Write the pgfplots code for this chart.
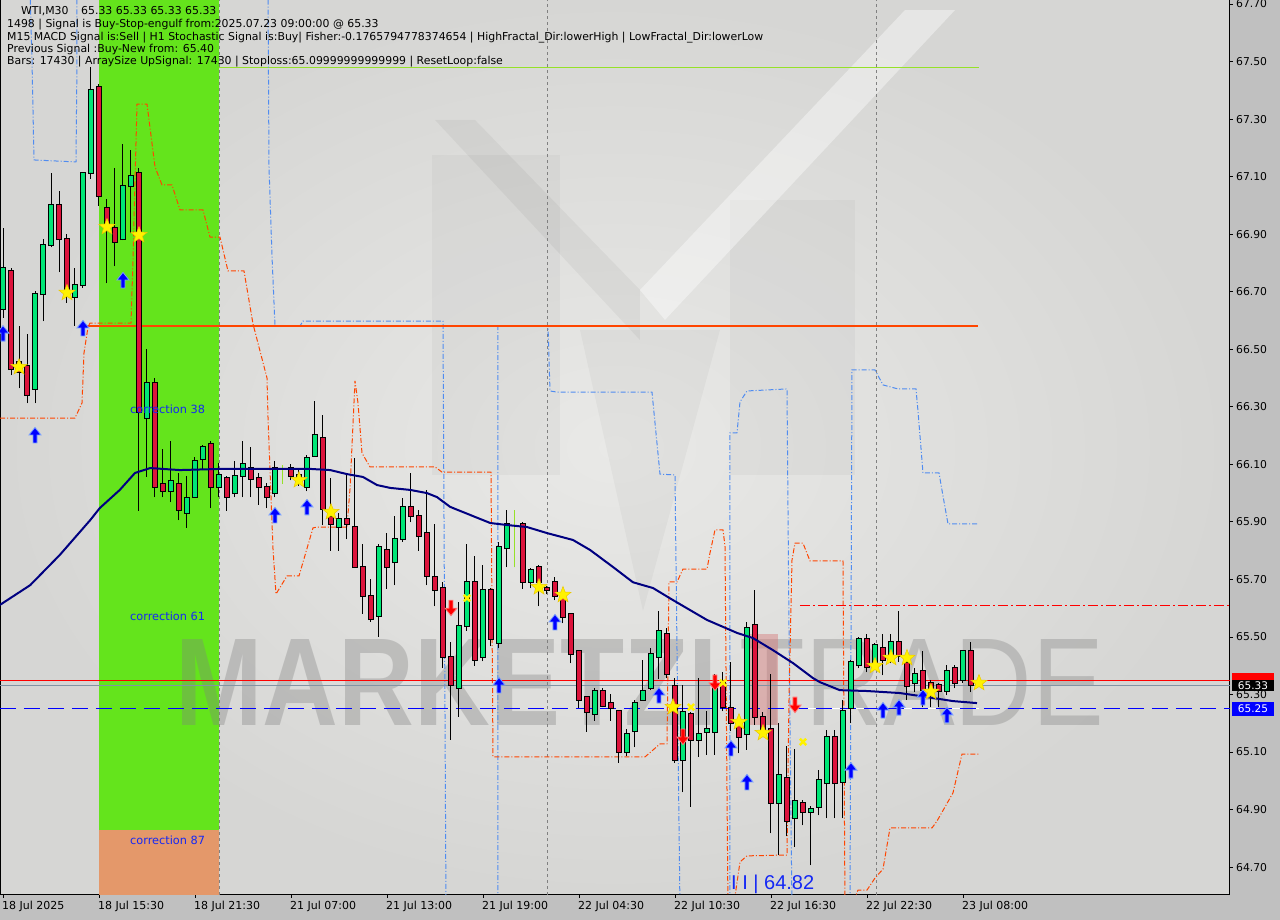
\documentclass[border=0pt]{standalone}
\usepackage{fontspec}
\setmainfont{DejaVu Sans}
\newfontfamily\wmfont{Liberation Sans}
\usepackage{pgfplots}
\pgfplotsset{compat=1.18}
\usepackage{pgfplotstable}

\definecolor{outerbg}{RGB}{192,192,192}
\definecolor{bgin}{RGB}{233,233,231}
\definecolor{bgout}{RGB}{214,214,212}
\definecolor{band}{RGB}{100,228,28}
\definecolor{salmon}{RGB}{228,152,106}
\definecolor{cgreen}{RGB}{0,230,118}
\definecolor{cred}{RGB}{220,20,60}
\definecolor{mnavy}{RGB}{0,0,128}
\definecolor{chblue}{RGB}{80,140,240}
\definecolor{chorange}{RGB}{255,69,0}
\definecolor{limec}{RGB}{150,225,40}
\definecolor{gline}{RGB}{130,148,165}
\definecolor{corrblue}{RGB}{20,40,245}
\definecolor{arrglow}{RGB}{120,160,255}
\definecolor{staredge}{RGB}{235,200,0}

\pgfdeclareplotmark{fstar}{%
  \pgfpathmoveto{\pgfpointpolar{90}{8.5pt}}%
  \pgfpathlineto{\pgfpointpolar{126}{3.6pt}}%
  \pgfpathlineto{\pgfpointpolar{162}{8.5pt}}%
  \pgfpathlineto{\pgfpointpolar{198}{3.6pt}}%
  \pgfpathlineto{\pgfpointpolar{234}{8.5pt}}%
  \pgfpathlineto{\pgfpointpolar{270}{3.6pt}}%
  \pgfpathlineto{\pgfpointpolar{306}{8.5pt}}%
  \pgfpathlineto{\pgfpointpolar{342}{3.6pt}}%
  \pgfpathlineto{\pgfpointpolar{18}{8.5pt}}%
  \pgfpathlineto{\pgfpointpolar{54}{3.6pt}}%
  \pgfpathclose\pgfusepath{fill,stroke}}
\pgfdeclareplotmark{uarr}{%
  \pgfpathmoveto{\pgfpoint{-2pt}{-8pt}}%
  \pgfpathlineto{\pgfpoint{2pt}{-8pt}}%
  \pgfpathlineto{\pgfpoint{2pt}{0pt}}%
  \pgfpathlineto{\pgfpoint{6pt}{0pt}}%
  \pgfpathlineto{\pgfpoint{0pt}{7.5pt}}%
  \pgfpathlineto{\pgfpoint{-6pt}{0pt}}%
  \pgfpathlineto{\pgfpoint{-2pt}{0pt}}%
  \pgfpathclose\pgfusepath{fill,stroke}}
\pgfdeclareplotmark{darr}{%
  \pgfpathmoveto{\pgfpoint{-2pt}{8pt}}%
  \pgfpathlineto{\pgfpoint{2pt}{8pt}}%
  \pgfpathlineto{\pgfpoint{2pt}{0pt}}%
  \pgfpathlineto{\pgfpoint{6pt}{0pt}}%
  \pgfpathlineto{\pgfpoint{0pt}{-7.5pt}}%
  \pgfpathlineto{\pgfpoint{-6pt}{0pt}}%
  \pgfpathlineto{\pgfpoint{-2pt}{0pt}}%
  \pgfpathclose\pgfusepath{fill,stroke}}

\pgfplotsset{
  errplot/.style={only marks, mark=*, mark size=0pt, mark options={draw=none, fill=none}, forget plot,
    error bars/.cd, y dir=plus, y explicit, error mark=none},
  chline/.style={line width=1pt, dash pattern=on 5pt off 2pt on 1pt off 2pt},
}

\pgfplotstableread{
i o h l c
0 66.640 66.921 66.609 66.782
1 66.772 66.782 66.410 66.431
2 66.456 66.581 66.365 66.421
3 66.442 66.553 66.313 66.341
4 66.362 66.702 66.313 66.692
5 66.692 66.883 66.598 66.862
6 66.862 67.113 66.855 67.001
7 67.001 67.050 66.768 66.883
8 66.883 66.901 66.661 66.706
9 66.682 66.782 66.581 66.723
10 66.723 67.113 66.713 67.113
11 67.113 67.481 67.092 67.401
12 67.412 67.422 66.998 67.033
13 66.991 67.022 66.730 66.921
14 66.921 67.130 66.789 66.873
15 66.883 67.213 66.880 67.067
16 67.067 67.193 66.904 67.102
17 67.113 67.130 65.938 66.282
18 66.261 66.501 66.056 66.383
19 66.383 66.400 65.986 66.021
20 66.032 66.153 65.986 66.007
21 66.007 66.181 65.969 66.042
22 66.032 66.070 65.906 65.941
23 65.931 66.059 65.879 65.983
24 65.986 66.125 65.983 66.111
25 66.118 66.167 66.080 66.160
26 66.171 66.181 65.948 66.021
27 66.021 66.105 65.986 66.063
28 66.052 66.059 65.938 65.986
29 66.000 66.111 65.986 66.059
30 66.059 66.181 65.986 66.101
31 66.087 66.160 65.986 66.049
32 66.052 66.070 65.959 66.021
33 66.021 66.035 65.948 65.986
34 66.000 66.111 65.986 66.087
36 66.087 66.101 66.045 66.059
37 66.052 66.087 66.025 66.063
38 66.021 66.132 66.007 66.122
39 66.129 66.320 66.129 66.202
40 66.191 66.271 65.889 65.945
41 65.917 66.052 65.799 65.892
42 65.882 65.931 65.799 65.910
43 65.910 66.066 65.840 65.892
44 65.882 66.122 65.743 65.743
45 65.743 65.823 65.580 65.642
46 65.642 65.701 65.552 65.562
47 65.573 65.823 65.500 65.812
48 65.802 65.861 65.667 65.743
49 65.760 65.920 65.680 65.840
50 65.840 65.983 65.830 65.952
51 65.952 66.070 65.899 65.920
52 65.920 65.941 65.799 65.851
53 65.861 66.011 65.680 65.712
54 65.708 65.892 65.607 65.663
55 65.670 65.691 65.392 65.430
56 65.430 65.482 65.142 65.333
57 65.322 65.621 65.222 65.538
58 65.538 65.823 65.521 65.691
59 65.691 65.781 65.399 65.420
60 65.430 65.750 65.416 65.663
61 65.663 65.670 65.468 65.493
62 65.479 65.830 65.461 65.812
63 65.809 65.941 65.743 65.892
65 65.892 65.899 65.667 65.691
66 65.691 65.740 65.670 65.733
67 65.743 65.750 65.607 65.691
68 65.670 65.677 65.649 65.663
69 65.691 65.708 65.628 65.642
70 65.639 65.646 65.548 65.569
71 65.580 65.583 65.409 65.441
72 65.451 65.451 65.253 65.281
73 65.291 65.291 65.170 65.239
74 65.232 65.322 65.208 65.312
75 65.312 65.322 65.256 65.260
76 65.270 65.302 65.208 65.253
77 65.242 65.242 65.062 65.100
78 65.100 65.180 65.086 65.162
79 65.173 65.281 65.117 65.270
80 65.281 65.420 65.281 65.312
81 65.322 65.461 65.315 65.441
82 65.430 65.590 65.354 65.521
83 65.510 65.531 65.357 65.371
84 65.329 65.357 65.062 65.072
85 65.072 65.333 64.961 65.239
86 65.232 65.239 64.909 65.142
87 65.142 65.357 65.083 65.162
88 65.170 65.242 65.090 65.180
89 65.170 65.371 65.090 65.329
90 65.340 65.378 65.242 65.256
91 65.253 65.413 65.173 65.201
92 65.211 65.218 65.096 65.152
93 65.162 65.552 65.107 65.531
94 65.541 65.663 65.194 65.222
95 65.222 65.239 65.156 65.176
96 65.180 65.371 64.818 64.923
97 64.923 65.201 64.742 65.020
98 65.010 65.121 64.808 64.860
99 64.870 65.110 64.770 64.930
100 64.923 64.933 64.846 64.891
101 64.891 64.912 64.707 64.902
102 64.909 65.037 64.881 65.003
103 64.992 65.176 64.870 65.152
104 65.152 65.176 64.870 64.992
105 64.996 65.281 64.870 65.242
106 65.253 65.420 65.201 65.413
107 65.402 65.500 65.392 65.493
108 65.493 65.510 65.378 65.395
109 65.413 65.479 65.395 65.472
110 65.461 65.510 65.367 65.420
111 65.437 65.510 65.409 65.482
112 65.482 65.590 65.413 65.434
113 65.409 65.434 65.281 65.329
114 65.340 65.392 65.308 65.371
115 65.381 65.451 65.256 65.315
116 65.340 65.350 65.256 65.322
117 65.333 65.340 65.256 65.312
118 65.312 65.402 65.298 65.381
119 65.392 65.402 65.322 65.340
120 65.350 65.451 65.340 65.451
121 65.451 65.482 65.308 65.333
}\candles

\begin{document}
\begin{tikzpicture}[x=1pt,y=1pt]
\useasboundingbox (0,0) rectangle (1280,920);
\fill[outerbg] (0,0) rectangle (1280,920);
\begin{axis}[
  at={(0pt,25pt)}, anchor=south west,
  width=1230pt, height=895pt, scale only axis,
  xmin=-0.375, xmax=153.375, ymin=64.603, ymax=67.714,
  axis background/.style={inner color=bgin, outer color=bgout},
  axis line style={black, line width=1pt},
  tick style={black, line width=0.8pt},
  major tick length=3pt, tick align=outside,
  xtick pos=bottom, ytick pos=right, yticklabel pos=right,
  xtick={0,12,24,36,48,60,72,84,96,108,120},
  xticklabels={18 Jul 2025,18 Jul 15:30,18 Jul 21:30,21 Jul 07:00,21 Jul 13:00,21 Jul 19:00,22 Jul 04:30,22 Jul 10:30,22 Jul 16:30,22 Jul 22:30,23 Jul 08:00},
  xticklabel style={anchor=north west, inner sep=0pt, xshift=-1pt, yshift=-3pt, font=\fontsize{11}{12}\selectfont},
  ytick={64.7,64.9,65.1,65.3,65.5,65.7,65.9,66.1,66.3,66.5,66.7,66.9,67.1,67.3,67.5,67.7},
  yticklabels={64.70,64.90,65.10,65.30,65.50,65.70,65.90,66.10,66.30,66.50,66.70,66.90,67.10,67.30,67.50,67.70},
  yticklabel style={anchor=west, inner sep=0pt, xshift=3pt, font=\fontsize{10.8}{12}\selectfont},
]
% signal band
\addplot[fill=band, draw=none, forget plot] coordinates {(12,64.829) (27,64.829) (27,67.8) (12,67.8)} -- cycle;
\addplot[fill=salmon, draw=none, forget plot] coordinates {(12,64.55) (27,64.55) (27,64.829) (12,64.829)} -- cycle;
% logo watermark (subtle)
\addplot[fill=black, fill opacity=0.03, draw=none, forget plot] coordinates {(53.625,67.175) (69.625,67.175) (69.625,66.063) (53.625,66.063)} -- cycle;
\addplot[fill=black, fill opacity=0.03, draw=none, forget plot] coordinates {(90.875,67.019) (106.5,67.019) (106.5,66.063) (90.875,66.063)} -- cycle;
\addplot[fill=black, fill opacity=0.03, draw=none, forget plot] coordinates {(72.125,66.567) (89.625,66.567) (80,65.590)} -- cycle;
\addplot[fill=black, fill opacity=0.045, draw=none, forget plot] coordinates {(54,67.297) (59,67.297) (79.625,66.706) (79.625,66.532)} -- cycle;
\addplot[fill=white, fill opacity=0.4, draw=none, forget plot] coordinates {(79.625,66.706) (112.75,67.679) (119,67.679) (82.75,66.602)} -- cycle;
% watermark text
\node[anchor=west, inner sep=0pt, xscale=0.84, text=gray, opacity=0.35, font=\wmfont\bfseries\fontsize{125}{125}\selectfont] at (axis cs:21.5,65.343) {MARKETZI};
\node[anchor=west, inner sep=0pt, xscale=0.86, text=gray, opacity=0.35, font=\wmfont\fontsize{125}{125}\selectfont] at (axis cs:92.1,65.343) {TRADE};
% pink zone
\addplot[fill={rgb,255:red,215;green,120;blue,120}, fill opacity=0.45, draw=none, forget plot] coordinates {(93,65.194) (96.9,65.194) (96.9,65.510) (93,65.510)} -- cycle;
% vertical separators
\addplot[gray, dash pattern=on 3pt off 3pt, line width=0.8pt] coordinates {(27,64.5) (27,67.8)};
\addplot[gray, dash pattern=on 3pt off 3pt, line width=0.8pt] coordinates {(68,64.5) (68,67.8)};
\addplot[gray, dash pattern=on 3pt off 3pt, line width=0.8pt] coordinates {(109.125,64.5) (109.125,67.8)};
% lime top line
\addplot[limec, line width=1pt] coordinates {(27,67.481) (122,67.481)};
% upper channel (blue)
\addplot[chblue, chline] coordinates {(3.375,67.75) (3.625,67.505) (3.875,67.158) (9.125,67.151) (9.25,67.505) (9.25,67.75)};
\addplot[chblue, chline] coordinates {(33.125,67.75) (33.25,67.134) (33.625,66.824) (34,66.581) (37.125,66.581) (37.5,66.598) (55,66.598) (55.375,64.55)};
\addplot[chblue, chline] coordinates {(61.875,64.55) (61.875,66.581) (68.125,66.581) (68.375,66.355) (69.25,66.351) (81.125,66.351) (82.125,66.066) (84,66.063) (84.625,64.55)};
\addplot[chblue, chline] coordinates {(90.875,64.55) (90.875,66.209) (91.75,66.209) (92.125,66.317) (93,66.355) (98,66.362) (98.25,65.527) (98.625,64.55)};
\addplot[chblue, chline] coordinates {(105.875,64.55) (106.125,66.428) (109,66.428) (110,66.376) (111.875,66.362) (114.125,66.362) (114.375,66.285) (115,66.070) (117,66.070) (117.5,65.990) (118.125,65.893) (122,65.893)};
% lower channel (orange)
\addplot[chorange, chline] coordinates {(-0.375,66.261) (9,66.261) (9.875,66.313) (10.125,66.487) (10.625,66.577) (10.875,66.591) (16,66.591) (16.25,66.810) (16.75,67.352) (18,67.352) (19,67.134) (19.875,67.071) (21.125,67.071) (22.125,66.984) (25,66.984) (25.875,66.890) (27.125,66.890) (28.125,66.772) (30.125,66.772) (31.25,66.588) (33,66.400) (33.125,66.264) (33.75,65.806) (34.125,65.649) (35.5,65.712) (37,65.712) (38.75,65.879) (39.25,65.882) (43,65.882) (43.375,66.014) (44,66.390) (44.375,66.313) (44.875,66.139) (45.875,66.091) (54,66.091) (54.875,66.073) (61,66.073) (61.25,65.083) (80.25,65.083) (82.125,65.128) (83,65.128) (83.25,65.691) (84.25,65.691) (85,65.736) (88,65.736) (88.375,65.792) (89,65.872) (90,65.872) (90.25,65.816) (90.625,64.55)};
\addplot[chorange, chline] coordinates {(91.25,64.55) (92.125,64.718) (93,64.739) (98,64.742) (98.25,65.281) (98.625,65.767) (99,65.826) (100,65.826) (100.875,65.764) (105,65.764) (105.25,64.55)};
\addplot[chorange, chline] coordinates {(105.875,64.55) (106.875,64.620) (108,64.620) (109,64.662) (110,64.693) (110.875,64.836) (116.125,64.836) (116.75,64.860) (118.75,64.958) (119.875,65.093) (122,65.093)};
% horizontal levels
\addplot[chorange, line width=1.2pt] coordinates {(10.25,66.581) (121.9,66.581)};
\addplot[red, line width=1pt, dash pattern=on 10pt off 3pt on 2pt off 3pt] coordinates {(99.6,65.611) (153.4,65.611)};
\addplot[red, line width=1pt] coordinates {(-0.4,65.35) (153.4,65.35)};
\addplot[gline, line width=1pt] coordinates {(-0.4,65.33) (153.4,65.33)};
\addplot[white, line width=1pt] coordinates {(98.6,65.25) (122,65.25)};
\addplot[blue, line width=1pt, dash pattern=on 16pt off 8pt] coordinates {(-0.4,65.25) (153.4,65.25)};
% candles: wicks
\addplot[errplot, error bar style={black, line width=1pt}]
  table[x=i, y=l, y error expr=\thisrow{h}-\thisrow{l}] {\candles};
% lime dojis
\addplot[errplot, error bar style={limec, line width=1pt}]
  coordinates {(35,66.032) +- (0,0.066) (64,65.743) +- (0,0.198)};
% bodies
\addplot[errplot, error bar style={black, line width=6pt, line cap=butt}]
  table[x=i, y expr={min(\thisrow{o},\thisrow{c})-0.0035}, y error expr={abs(\thisrow{c}-\thisrow{o})+0.007}] {\candles};
\addplot[errplot, error bar style={cgreen, line width=4pt, line cap=butt}]
  table[x=i, y=o, y error expr={max(\thisrow{c}-\thisrow{o},0)}] {\candles};
\addplot[errplot, error bar style={cred, line width=4pt, line cap=butt}]
  table[x=i, y=c, y error expr={max(\thisrow{o}-\thisrow{c},0)}] {\candles};
% moving average
\addplot[mnavy, line width=2pt] coordinates {(-0.4,65.611) (3.4,65.680) (7.1,65.785) (10.9,65.906) (12.1,65.948) (14.6,66.011) (16.5,66.070) (18.4,66.087) (22.1,66.080) (27.1,66.084) (38.4,66.084) (40.9,66.080) (43,66.066) (45,66.056) (46.75,66.028) (48.4,66.018) (50.9,66.011) (53,66.000) (54.25,65.986) (55.9,65.952) (58.4,65.924) (60.9,65.896) (63,65.889) (65.5,65.882) (68,65.861) (71.25,65.837) (73.4,65.802) (76.25,65.743) (78.75,65.690) (81.25,65.670) (83.75,65.628) (88,65.559) (91.75,65.514) (93.75,65.496) (96.25,65.454) (98.75,65.409) (101.25,65.357) (102.1,65.343) (104.6,65.315) (108,65.312) (112.1,65.305) (115.5,65.291) (118.75,65.277) (121.75,65.270)};
% signal arrows
\addplot[only marks, mark=uarr, mark options={fill=blue, draw=arrglow, line width=0.8pt}] coordinates {(0,66.556) (4,66.202) (10,66.574) (15,66.741) (34,65.924) (38,65.952) (62,65.333) (69,65.552) (82,65.298) (91,65.114) (93,64.996) (106,65.037) (110,65.246) (112,65.256) (115,65.291) (118,65.229)};
\addplot[only marks, mark=darr, mark options={fill=red, draw={rgb,255:red,255;green,120;blue,120}, line width=0.8pt}] coordinates {(56,65.600) (85,65.152) (89,65.340) (99,65.263)};
% stars
\addplot[only marks, mark=fstar, mark options={fill=yellow, draw=staredge, line width=0.5pt}] coordinates {(2,66.438) (8,66.696) (13,66.925) (17,66.897) (37,66.045) (41,65.934) (67,65.673) (70,65.646) (83.75,65.256) (92,65.204) (95,65.166) (109,65.399) (111,65.427) (113,65.427) (116,65.309) (122,65.340)};
\addplot[only marks, mark=x, mark size=4.5pt, mark options={draw=yellow, line width=2.5pt}] coordinates {(58,65.635) (86,65.256) (90,65.340) (100,65.135)};
% texts
\node[anchor=west, inner sep=0pt, text=corrblue, font=\fontsize{11.3}{12}\selectfont] at (axis cs:15.875,66.292) {correction 38};
\node[anchor=west, inner sep=0pt, text=corrblue, font=\fontsize{11.3}{12}\selectfont] at (axis cs:15.875,65.573) {correction 61};
\node[anchor=west, inner sep=0pt, text=corrblue, font=\fontsize{11.3}{12}\selectfont] at (axis cs:15.875,64.794) {correction 87};
\node[anchor=west, inner sep=0pt, text=corrblue, font=\wmfont\fontsize{20}{20}\selectfont] at (axis cs:91,64.641) {I I | 64.82};
\end{axis}
% price boxes
\fill[red] (1232,239) rectangle (1274,247);
\fill[black] (1232,229) rectangle (1274,240);
\node[text=white, inner sep=0pt, font=\fontsize{10.5}{12}\selectfont] at (1253,234.5) {65.33};
\fill[blue] (1232,204) rectangle (1274,218);
\node[text=white, inner sep=0pt, font=\fontsize{10.5}{12}\selectfont] at (1253,211) {65.25};
% info text
\begin{scope}[every node/.style={anchor=base west, inner sep=0pt, font=\fontsize{10.9}{12}\selectfont}]
\node at (21,905) {WTI,M30};
\node at (81,905) {65.33 65.33 65.33 65.33};
\node at (7,892) {1498 | Signal is Buy-Stop-engulf from:2025.07.23 09:00:00 @ 65.33};
\node at (7,879) {M15 MACD Signal is:Sell | H1 Stochastic Signal is:Buy| Fisher:-0.1765794778374654 | HighFractal\_Dir:lowerHigh | LowFractal\_Dir:lowerLow};
\node at (7,867) {Previous Signal :Buy-New from: 65.40};
\node at (7,855) {Bars: 17430 | ArraySize UpSignal: 17430 | Stoploss:65.09999999999999 | ResetLoop:false};
\end{scope}
\end{tikzpicture}
\end{document}
